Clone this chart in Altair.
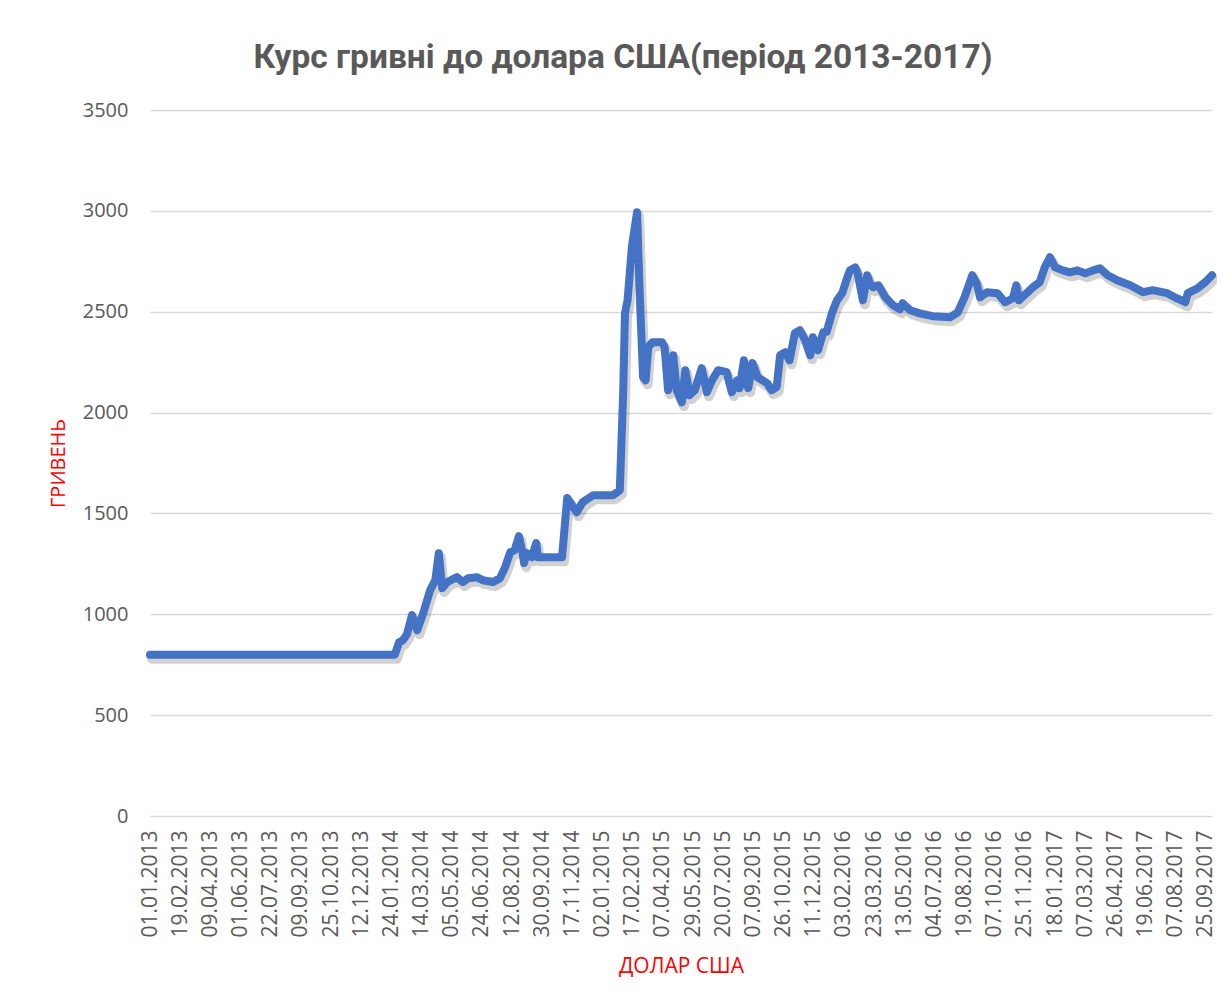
import altair as alt
import pandas as pd

title_text = "Курс гривні до долара США(період 2013-2017)"
x_title = "ДОЛАР США"
y_title = "ГРИВЕНЬ"

tick_labels = [
    "01.01.2013", "19.02.2013", "09.04.2013", "01.06.2013", "22.07.2013",
    "09.09.2013", "25.10.2013", "12.12.2013", "24.01.2014", "14.03.2014",
    "05.05.2014", "24.06.2014", "12.08.2014", "30.09.2014", "17.11.2014",
    "02.01.2015", "17.02.2015", "07.04.2015", "29.05.2015", "20.07.2015",
    "07.09.2015", "26.10.2015", "11.12.2015", "03.02.2016", "23.03.2016",
    "13.05.2016", "04.07.2016", "19.08.2016", "07.10.2016", "25.11.2016",
    "18.01.2017", "07.03.2017", "26.04.2017", "19.06.2017", "07.08.2017",
    "25.09.2017",
]
label_step = 35      # working days between axis labels
last_day = 1232      # index of last working day in the series

# working-day index and rate (UAH per 100 USD)
day_index = [
    0, 284, 289, 293, 298, 304, 310, 317, 325, 331, 335, 339, 345, 356, 363,
    369, 379, 386, 398, 406, 412, 418, 423, 428, 432, 434, 437, 443, 448, 450,
    456, 478, 484, 495, 502, 514, 537, 545, 549, 551, 554, 559, 565, 568, 572,
    575, 578, 583, 594, 597, 601, 607, 611, 617, 621, 626, 632, 640, 646, 652,
    659, 669, 675, 681, 684, 689, 694, 699, 705, 716, 721, 727, 731, 737, 742,
    748, 754, 760, 766, 769, 775, 781, 785, 791, 797, 803, 809, 812, 818, 821,
    827, 832, 835, 839, 845, 853, 862, 870, 873, 882, 893, 908, 928, 937, 945,
    954, 959, 963, 971, 983, 992, 1001, 1005, 1008, 1017, 1024, 1032, 1038,
    1044, 1050, 1059, 1067, 1076, 1085, 1094, 1102, 1111, 1122, 1137, 1152,
    1163, 1180, 1191, 1201, 1204, 1215, 1224, 1232,
]
rate = [
    799, 799, 862, 870, 900, 996, 921, 1006, 1120, 1169, 1303, 1130, 1160,
    1184, 1160, 1179, 1184, 1169, 1160, 1179, 1234, 1308, 1318, 1387, 1308,
    1254, 1303, 1283, 1353, 1283, 1283, 1283, 1576, 1506, 1556, 1590, 1590,
    1615, 2111, 2492, 2557, 2820, 2993, 2606, 2175, 2160, 2324, 2349, 2349,
    2324, 2111, 2284, 2111, 2051, 2210, 2086, 2111, 2220, 2101, 2160, 2210,
    2200, 2101, 2160, 2121, 2259, 2121, 2245, 2175, 2145, 2111, 2126, 2284,
    2299, 2259, 2393, 2408, 2359, 2284, 2373, 2309, 2398, 2400, 2492, 2557,
    2592, 2671, 2705, 2720, 2690, 2557, 2681, 2641, 2621, 2631, 2572, 2532,
    2512, 2542, 2507, 2492, 2478, 2472, 2497, 2572, 2681, 2641, 2572, 2597,
    2592, 2547, 2567, 2631, 2557, 2592, 2621, 2646, 2720, 2770, 2720, 2705,
    2695, 2705, 2690, 2705, 2715, 2681, 2656, 2631, 2597, 2607, 2592, 2567,
    2547, 2592, 2616, 2646, 2681,
]

df = pd.DataFrame({"day": day_index, "rate": rate})

labels_js = "[" + ",".join("'" + s + "'" for s in tick_labels) + "]"
tick_vals = [i * label_step for i in range(len(tick_labels))]

x_enc = alt.X(
    "day:Q",
    scale=alt.Scale(domain=[0, last_day], nice=False, zero=False),
    axis=alt.Axis(
        values=tick_vals,
        labelExpr=labels_js + "[round(datum.value/" + str(label_step) + ")]",
        labelAngle=270,
        labelFont="Open Sans",
        labelFontSize=21,
        labelColor="#595959",
        labelPadding=14,
        labelOverlap=False,
        labelFlush=False,
        grid=False,
        ticks=False,
        domain=False,
        title=x_title,
        titleFont="Open Sans",
        titleFontSize=21,
        titleFontWeight="normal",
        titleColor="#ff0000",
        titlePadding=18,
    ),
)
y_enc = alt.Y(
    "rate:Q",
    scale=alt.Scale(domain=[0, 3500], nice=False),
    axis=alt.Axis(
        values=[0, 500, 1000, 1500, 2000, 2500, 3000, 3500],
        format="d",
        labelFont="Open Sans",
        labelFontSize=20,
        labelColor="#595959",
        labelPadding=22,
        grid=True,
        gridColor="#d9d9d9",
        gridWidth=1.5,
        ticks=False,
        domain=False,
        title=y_title,
        titleFont="Open Sans",
        titleFontSize=20,
        titleFontWeight="normal",
        titleColor="#ff0000",
        titlePadding=14,
    ),
)

shadow = alt.Chart(df).mark_line(
    color="#000000", opacity=0.18, strokeWidth=10, strokeJoin="round",
    strokeCap="round", xOffset=2, yOffset=4,
).encode(x=x_enc, y=y_enc)

line = alt.Chart(df).mark_line(
    color="#4472c4", strokeWidth=8, strokeJoin="round", strokeCap="round",
).encode(x=x_enc, y=y_enc)

chart = alt.layer(shadow, line).properties(
    width=1062,
    height=706,
    autosize=alt.AutoSizeParams(type="none"),
    padding={"left": 142, "top": 102, "right": 5, "bottom": 175},
    title=alt.TitleParams(
        text=title_text,
        font="Roboto",
        fontSize=33.5,
        fontWeight="bold",
        color="#595959",
        anchor="middle",
        baseline="alphabetic",
        dx=-58,
        dy=7,
        offset=6,
    ),
    background="white",
).configure_view(stroke=None)

chart.save("out.html", embed_options={"renderer": "svg", "actions": False})
